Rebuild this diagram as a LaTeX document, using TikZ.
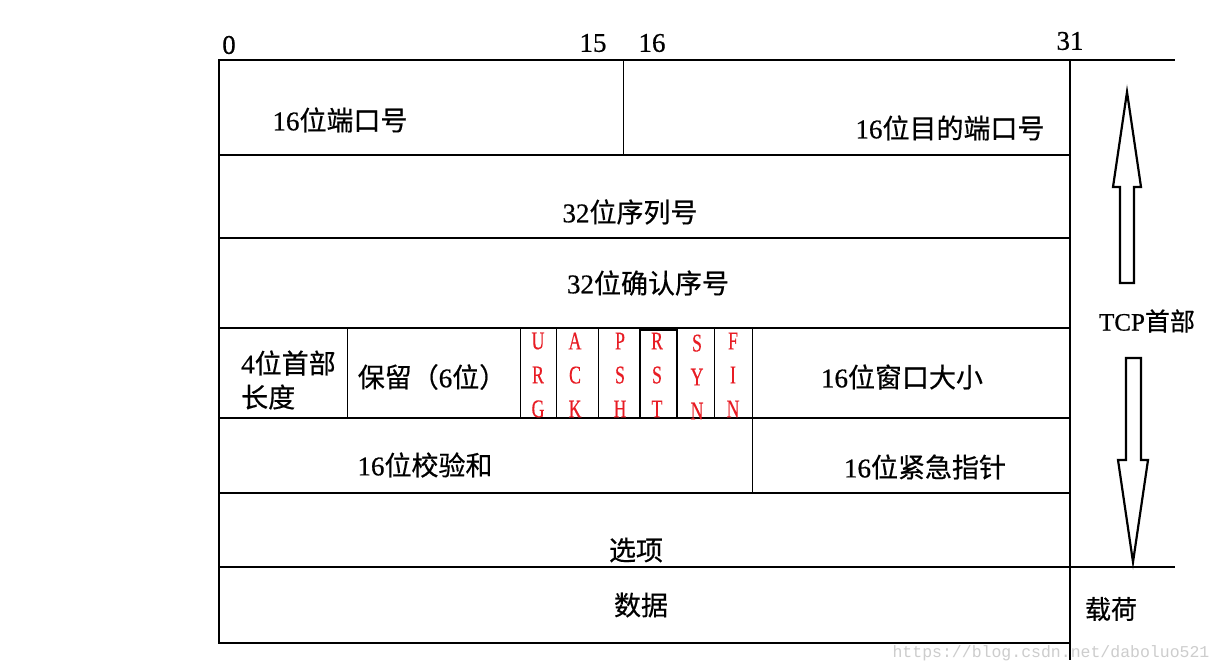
\documentclass[tikz,border=0pt]{standalone}
\usepackage{fontspec}
\setmainfont[FakeBold=0.6]{Liberation Serif}
\newfontfamily\cjk[FakeBold=0.5]{Noto Sans CJK SC}
\newfontfamily\narrowser[FakeStretch=0.7,FakeBold=0.4]{Liberation Serif}
\newfontfamily\wmfont{Liberation Mono}
\newcommand\fsz{\fontsize{27}{34}\selectfont}
\newcommand\zh[1]{{\cjk #1}}
\definecolor{flagred}{RGB}{232,28,36}
\definecolor{wmgray}{RGB}{205,205,205}
\begin{document}
\begin{tikzpicture}[x=1pt,y=-1pt,
  frame/.style={line width=1.5pt},
  thinline/.style={line width=0.9pt},
  heavy/.style={line width=2.6pt},
  blockarrow/.style={line width=2.2pt, fill=white, line join=miter},
  lbl/.style={inner sep=0pt, font=\fsz},
  flag/.style={inner sep=0pt, text=flagred, align=center, font=\narrowser\fontsize{25.5}{34}\selectfont}]
\useasboundingbox (0,0) rectangle (1222,671);
\fill[white] (0,0) rectangle (1222,671);

% frame and rows
\draw[frame] (219,60) rectangle (1070,643);
\foreach \yy in {155,238,328,418,493,567} \draw[frame] (219,\yy) -- (1070,\yy);
\draw[frame] (1070,643) -- (1070,660);
\draw[heavy] (1070,60) -- (1175,60);
\draw[heavy] (1070,567) -- (1175,567);

% row 1 divider
\draw[thinline] (623,60) -- (623,155);
% row 4 dividers
\foreach \xx in {347,520,556,598,677,714,752} \draw[thinline] (\xx,328) -- (\xx,418);
\draw[frame] (640,330) rectangle (677,418);
\draw[frame] (556,418) -- (640,418);
% row 5 divider
\draw[thinline] (752,418) -- (752,493);

% bit numbers
\node[lbl] (b0) at (229,45) {0};
\node[lbl] (b15) at (593,43) {15};
\node[lbl] (b16) at (652,43) {16};
\node[lbl] (b31) at (1070,41) {31};

% field labels
\node[lbl] (srcport) at (340,120) {16\zh{位端口号}};
\node[lbl] (dstport) at (950,128) {16\zh{位目的端口号}};
\node[lbl] (seqno) at (630,212) {32\zh{位序列号}};
\node[lbl] (ackno) at (648,283) {32\zh{位确认序号}};
\node[lbl, anchor=west, align=left] (hdrlen) at (241,380) {4\zh{位首部}\\\zh{长度}};
\node[lbl] (resv) at (432,377) {\zh{保留（}6\zh{位）}};
\node[flag] (furg) at (538,375) {U\\R\\G};
\node[flag] (fack) at (575,375) {A\\C\\K};
\node[flag] (fpsh) at (620,375) {P\\S\\H};
\node[flag] (frst) at (657,375) {R\\S\\T};
\node[flag] (fsyn) at (697,377) {S\\Y\\N};
\node[flag] (ffin) at (733,375) {F\\I\\N};
\node[lbl] (window) at (902,377) {16\zh{位窗口大小}};
\node[lbl] (cksum) at (425,465) {16\zh{位校验和}};
\node[lbl] (urgptr) at (925,467) {16\zh{位紧急指针}};
\node[lbl] (opts) at (636,550) {\zh{选项}};
\node[lbl] (data) at (641,605) {\zh{数据}};

% right side
\draw[blockarrow] (1127,92) -- (1141,187) -- (1134,187) -- (1134,283) -- (1120,283) -- (1120,187) -- (1113,187) -- cycle;
\draw[blockarrow] (1133,562) -- (1148,460) -- (1141,460) -- (1141,358) -- (1126,358) -- (1126,460) -- (1118,460) -- cycle;
\node[inner sep=0pt, font=\fontsize{25}{30}\selectfont] (tcphdr) at (1147,321) {TCP\zh{首部}};
\node[inner sep=0pt, font=\fontsize{26}{30}\selectfont] (payload) at (1111,609) {\zh{载荷}};

% watermark
\node[inner sep=0pt, text=wmgray, font=\wmfont\fontsize{16.5}{20}\selectfont] (wm) at (1051,653) {https://blog.csdn.net/daboluo521};
\end{tikzpicture}
\end{document}
